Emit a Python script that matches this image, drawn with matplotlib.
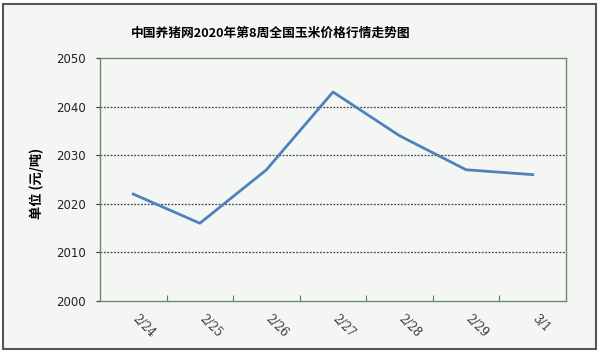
import matplotlib
matplotlib.use("Agg")
import matplotlib.pyplot as plt
from matplotlib.patches import Rectangle
from matplotlib.ticker import FixedLocator, NullFormatter

plt.rcParams['font.family'] = ['Noto Sans CJK SC', 'DejaVu Sans']

categories = ["2/24", "2/25", "2/26", "2/27", "2/28", "2/29", "3/1"]
prices = [2022, 2016, 2027, 2043, 2034, 2027, 2026]
y_ticks = [2000, 2010, 2020, 2030, 2040, 2050]
title = "中国养猪网2020年第8周全国玉米价格行情走势图"
ylabel = "单位 (元/吨)"

bg = "#f4f6f3"
fig = plt.figure(figsize=(6.0, 3.53), dpi=100)
fig.patch.set_facecolor("white")
frame = Rectangle((3/600, 4/353), 593/600, 345/353, transform=fig.transFigure,
                  facecolor=bg, edgecolor="#555555", linewidth=1.5, zorder=-5)
fig.add_artist(frame)

ax = fig.add_axes([100/600, 52/353, 466/600, 243/353])
ax.set_zorder(1)
ax.set_facecolor(bg)
x = list(range(len(categories)))
ax.plot(x, prices, color="#4f81bd", linewidth=2.0, zorder=3)
ax.set_xlim(-0.5, len(categories) - 0.5)
ax.set_ylim(2000, 2050)
ax.set_yticks(y_ticks)
ax.set_yticklabels([str(v) for v in y_ticks], fontsize=8.5, family="DejaVu Sans", color="#222222")
for v in y_ticks[1:-1]:
    ax.axhline(v, color="#444444", linestyle=(0, (1.5, 1.2)), linewidth=0.9, zorder=1)

ax.xaxis.set_major_locator(FixedLocator([i + 0.5 for i in range(len(categories) - 1)]))
ax.xaxis.set_major_formatter(NullFormatter())
ax.tick_params(axis='x', direction='in', length=4, color="#5a7a5a")
ax.tick_params(axis='y', direction='out', length=3, color="#333333", pad=7)
for i, c in enumerate(categories):
    ax.text(i - 0.05, 1997.7, c, rotation=-45, ha="left", va="top", fontsize=8.5,
            family="DejaVu Serif", color="#333333", transform=ax.transData, clip_on=False)
for s in ax.spines.values():
    s.set_color("#6a8a6a")
    s.set_linewidth(1.0)

fig.text(271/600, 1 - 33/353, title, ha="center", va="center", fontsize=9.2, fontweight="bold")
fig.text(37/600, 1 - 183/353, ylabel, rotation=90, ha="center", va="center", fontsize=9.5,
         fontweight="bold")

fig.savefig("out.png", dpi=100, facecolor=fig.get_facecolor())
